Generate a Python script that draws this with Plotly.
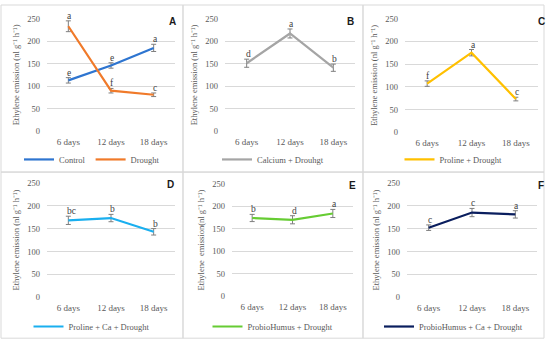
import plotly.graph_objects as go

W, H = 550, 349
categories = ["6 days", "12 days", "18 days"]

control = [113, 146, 185]
control_err = [6, 6, 8]
drought = [233, 90, 81]
drought_err = [12, 5, 4]
calcium = [151, 217, 141]
calcium_err = [9, 10, 8]
proline = [107, 175, 73]
proline_err = [6, 7, 4]
proline_ca = [168, 173, 143]
proline_ca_err = [9, 8, 7]
probio = [174, 170, 184]
probio_err = [8, 9, 9]
probio_ca = [152, 185, 181]
probio_ca_err = [6, 9, 8]

letters_control = ["e", "e", "a"]
letters_drought = ["a", "f", "c"]
letters_calcium = ["d", "a", "b"]
letters_proline = ["f", "a", "c"]
letters_proline_ca = ["bc", "b", "b"]
letters_probio = ["b", "d", "a"]
letters_probio_ca = ["c", "c", "a"]

panel_labels = ["A", "B", "C", "D", "E", "F"]
ytitles = ["Ethylene emission (nl g⁻¹ h⁻¹)"] * 4 + ["Ethylene  emission(nl g⁻¹ h⁻¹)", "Ethylene emission (nl g⁻¹ h⁻¹)"]

# pixel geometry
plot_x = [(47, 175), (225, 355), (405, 538), (47, 175), (232, 353), (407, 537)]
plot_y = [(14, 130), (14, 130), (14, 131), (183, 301), (184, 300), (183, 301)]
frames_x = [(1, 183), (183, 363), (363, 544)]
frames_y = [(0, 172), (172, 343)]
legend_y = [159, 159, 159, 331, 331, 331]
label_pos = [(172, 17), (350, 17), (541, 17), (170, 185), (352, 186), (541, 186)]

series = [
    [("Control", control, control_err, letters_control, "#2E75D0"),
     ("Drought", drought, drought_err, letters_drought, "#F07A2A")],
    [("Calcium + Drouhgt", calcium, calcium_err, letters_calcium, "#A5A5A5")],
    [("Proline + Drought", proline, proline_err, letters_proline, "#FFC000")],
    [("Proline + Ca + Drought", proline_ca, proline_ca_err, letters_proline_ca, "#1AAFEF")],
    [("ProbioHumus + Drought", probio, probio_err, letters_probio, "#66CC33")],
    [("ProbioHumus + Ca + Drought", probio_ca, probio_ca_err, letters_probio_ca, "#0A1E5E")],
]

serif = "Liberation Serif"
fig = go.Figure()
layout = dict(width=W, height=H, margin=dict(l=0, r=0, t=0, b=0),
              paper_bgcolor="white", plot_bgcolor="white", showlegend=True)
annotations = []
shapes = []

for i in range(6):
    sfx = "" if i == 0 else str(i + 1)
    lg = "legend" if i == 0 else "legend" + str(i + 1)
    x0, x1 = plot_x[i]
    y0, y1 = plot_y[i]
    layout["xaxis" + sfx] = dict(
        domain=[x0 / W, x1 / W], range=[-0.5, 2.5], anchor="y" + sfx,
        showgrid=False, zeroline=False, showline=False, ticks="",
        tickfont=dict(family=serif, size=9, color="#595959"), ticklabelstandoff=4,
        fixedrange=True)
    layout["yaxis" + sfx] = dict(
        domain=[1 - y1 / H, 1 - y0 / H], range=[0, 250], anchor="x" + sfx,
        tickvals=[0, 50, 100, 150, 200, 250], showgrid=True, gridcolor="#D9D9D9",
        gridwidth=1, zeroline=False, showline=False, ticks="",
        tickfont=dict(family=serif, size=8.5, color="#595959"), ticklabelstandoff=6,
        title=dict(text=ytitles[i], font=dict(family=serif, size=8.5, color="#595959"), standoff=6),
        fixedrange=True)
    cx = (frames_x[i % 3][0] + frames_x[i % 3][1]) / 2
    layout[lg] = dict(orientation="h", x=cx / W, xanchor="center",
                      y=1 - legend_y[i] / H, yanchor="middle",
                      font=dict(family=serif, size=8.5, color="#595959"),
                      bgcolor="rgba(0,0,0,0)", itemwidth=30, tracegroupgap=0)
    for name, vals, errs, lets, col in series[i]:
        fig.add_trace(go.Scatter(
            x=categories, y=vals, mode="lines", name=name,
            line=dict(color=col, width=2.2),
            error_y=dict(type="data", array=errs, visible=True, color="#7F7F7F",
                         thickness=1, width=2.5),
            xaxis="x" + sfx, yaxis="y" + sfx, legend=lg))
        for c, v, e, t in zip(categories, vals, errs, lets):
            annotations.append(dict(
                x=c, y=v + e, xref="x" + sfx, yref="y" + sfx, text=t, showarrow=False,
                yanchor="bottom", xanchor="left", xshift=-3, yshift=-2,
                font=dict(family=serif, size=9.5, color="#404040")))
    lx, ly = label_pos[i]
    annotations.append(dict(x=lx / W, y=1 - ly / H, xref="paper", yref="paper",
                            text="<b>" + panel_labels[i] + "</b>", showarrow=False,
                            xanchor="center", yanchor="middle",
                            font=dict(family="Liberation Sans", size=10, color="#1a1a1a")))

# panel frames
for fx0, fx1 in frames_x:
    for fy0, fy1 in frames_y:
        shapes.append(dict(type="rect", xref="paper", yref="paper",
                           x0=fx0 / W, x1=fx1 / W, y0=1 - fy1 / H, y1=1 - fy0 / H,
                           line=dict(color="#D9D9D9", width=1), fillcolor="rgba(0,0,0,0)"))

layout["annotations"] = annotations
layout["shapes"] = shapes
fig.update_layout(**layout)
fig.write_html("out.html", config={"displayModeBar": False},
               post_script="document.body.style.margin='0px';document.body.style.overflow='hidden';")
